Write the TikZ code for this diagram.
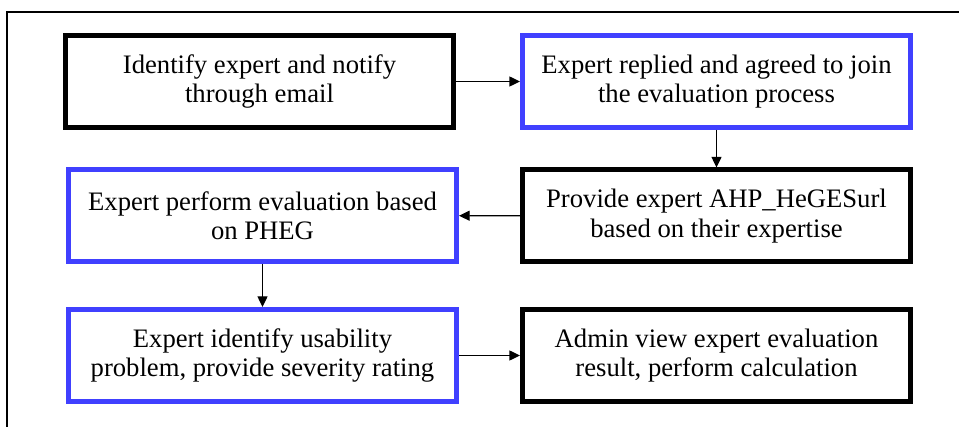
\documentclass[tikz,border=0pt]{standalone}
\usepackage{fontspec}
\setmainfont{Liberation Serif}
\newfontfamily\stepfont{Liberation Serif}
\usepackage{tikz}
\usetikzlibrary{arrows.meta}
\definecolor{stepblue}{RGB}{64,64,255}

\begin{document}
\begin{tikzpicture}[x=0.75pt, y=-0.75pt,
    every node/.style={font=\stepfont\fontsize{20}{22}\selectfont, align=center},
    stepbox/.style={draw, line width=3.75pt, minimum width=291pt, minimum height=69pt, inner sep=0pt},
    bluebox/.style={stepbox, draw=stepblue},
    flow/.style={line width=1pt, -{Triangle[length=8pt, width=7.5pt]}}]
    \useasboundingbox (0,0) rectangle (959,427);
    % Frame
    \draw[line width=1pt] (7,440) -- (7,12) -- (970,12);
    % Row 1
    \node[stepbox] (ident) at (259.5,81.5) {Identify expert and notify\\through email};
    \node[bluebox] (agree) at (716.5,81.5) {Expert replied and agreed to join\\the evaluation process};
    % Row 2
    \node[bluebox] (eval) at (262.5,215.5) {Expert perform evaluation based\\on PHEG};
    \node[stepbox] (prov) at (716.5,216) {Provide expert AHP\_HeGESurl\\based on their expertise};
    % Row 3
    \node[bluebox] (rate) at (262.5,355.5) {Expert identify usability\\problem, provide severity rating};
    \node[stepbox] (admin) at (716.5,355.5) {Admin view expert evaluation\\result, perform calculation};
    % Arrows
    \draw[flow] (ident) -- (agree);
    \draw[flow] (agree) -- (prov);
    \draw[flow] (prov) -- (eval);
    \draw[flow] (eval) -- (rate);
    \draw[flow] (rate) -- (admin);
\end{tikzpicture}
\end{document}
